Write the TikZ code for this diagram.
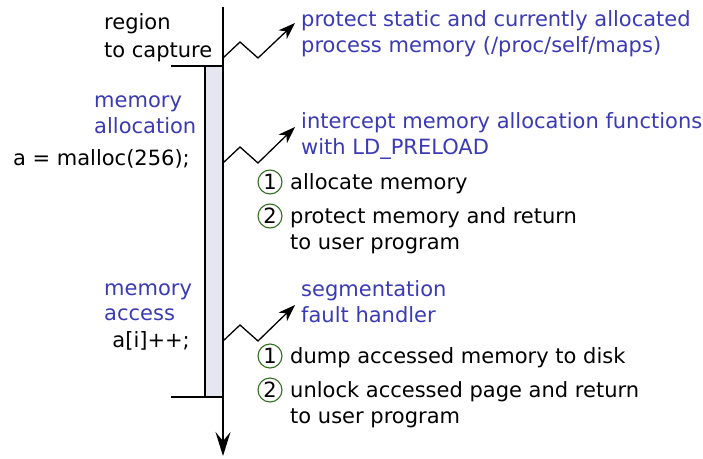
\documentclass[tikz,border=0pt]{standalone}
\usepackage{fontspec}
\setmainfont{DejaVu Sans}
\usetikzlibrary{arrows.meta}
\definecolor{txtblue}{RGB}{58,58,180}
\definecolor{cgreen}{RGB}{50,110,30}
\definecolor{barfill}{RGB}{230,230,241}
\tikzset{
  lbl/.style={inner sep=0pt, anchor=base west, font=\fontsize{21}{26}\selectfont},
  lblr/.style={inner sep=0pt, anchor=base east, font=\fontsize{21}{26}\selectfont},
  blue/.style={text=txtblue},
  num/.style={circle, draw=cgreen, line width=1.1pt, minimum size=24pt, inner sep=0pt, font=\fontsize{21}{26}\selectfont},
  zig/.style={line width=1.3pt, -{Stealth[length=17pt,width=12pt,inset=5pt]}},
  axis/.style={line width=1.5pt}
}
\begin{document}
\begin{tikzpicture}[x=1pt,y=-1pt]
\useasboundingbox (0,0) rectangle (703,458);
% bar
\draw[axis, fill=barfill] (205,66) rectangle (223,397);
\coordinate (top) at (223,7);
\coordinate (bot) at (223,456);
\draw[axis, -{Stealth[length=24pt,width=15pt,inset=9pt]}] (top) -- (bot);
\coordinate (h1a) at (171,66); \coordinate (h1b) at (223,66);
\coordinate (h2a) at (171,397); \coordinate (h2b) at (223,397);
\draw[axis] (h1a) -- (h1b);
\draw[axis] (h2a) -- (h2b);
% left texts
\node[lbl] (reg1) at (104,29) {region};
\node[lbl] (reg2) at (104,57) {to capture};
\node[lbl,blue] (ma1) at (94,107) {memory};
\node[lbl,blue] (ma2) at (94,133) {allocation};
\node[lblr] (malloc) at (190,165) {a = malloc(256);};
\node[lbl,blue] (mc1) at (104,295) {memory};
\node[lbl,blue] (mc2) at (104,320) {access};
\node[lblr] (acc) at (190,347) {a[i]++;};
% right texts
\node[lbl,blue] (p1) at (301,26) {protect static and currently allocated};
\node[lbl,blue] (p2) at (301,52) {process memory (/proc/self/maps)};
\node[lbl,blue] (i1) at (301,128) {intercept memory allocation functions};
\node[lbl,blue] (i2) at (301,154) {with LD\_PRELOAD};
\node[num] (n1a) at (270,182) {1};
\node[lbl] (t1a) at (290,189) {allocate memory};
\node[num] (n2a) at (270,216) {2};
\node[lbl] (t2a) at (290,223) {protect memory and return};
\node[lbl] (t2b) at (290,249) {to user program};
\node[lbl,blue] (s1) at (301,296) {segmentation};
\node[lbl,blue] (s2) at (301,322) {fault handler};
\node[num] (n1b) at (270,356) {1};
\node[lbl] (t3a) at (290,363) {dump accessed memory to disk};
\node[num] (n2b) at (270,390) {2};
\node[lbl] (t4a) at (290,397) {unlock accessed page and return};
\node[lbl] (t4b) at (290,423) {to user program};
% zigzag arrows
\coordinate (z1s) at (223,58); \coordinate (z1e) at (295,23);
\coordinate (z2s) at (223,163); \coordinate (z2e) at (295,127);
\coordinate (z3s) at (223,341); \coordinate (z3e) at (295,305);
\draw[zig] (z1s) -- ++(17,-16) -- ++(18,16) -- (z1e);
\draw[zig] (z2s) -- ++(17,-16) -- ++(18,16) -- (z2e);
\draw[zig] (z3s) -- ++(17,-16) -- ++(18,16) -- (z3e);
\end{tikzpicture}
\end{document}
